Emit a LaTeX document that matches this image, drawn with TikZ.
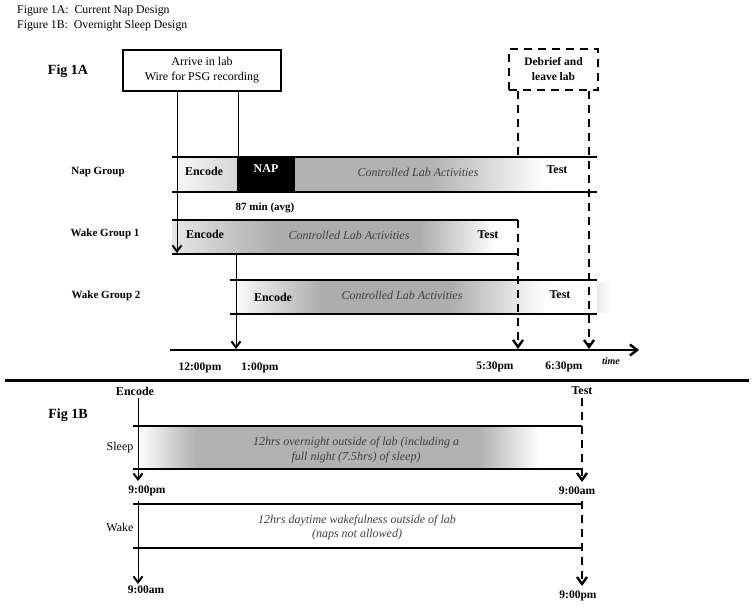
\documentclass[tikz,border=0pt]{standalone}
\usepackage{fontspec}
\setmainfont{Liberation Serif}
\usetikzlibrary{arrows.meta}
\begin{document}
\begin{tikzpicture}[x=1pt,y=-1pt,
  every node/.style={inner sep=0pt},
  ttl/.style={font=\fontsize{11.8}{13}\selectfont, anchor=west},
  figlbl/.style={font=\fontsize{14}{16}\selectfont\bfseries},
  grplbl/.style={font=\fontsize{11}{12}\selectfont\bfseries},
  cell/.style={font=\fontsize{12}{13}\selectfont\bfseries},
  act/.style={font=\fontsize{12}{13}\selectfont\itshape, text=black!75},
  tlbl/.style={font=\fontsize{11.5}{13}\selectfont\bfseries},
  plain/.style={font=\fontsize{12}{13}\selectfont},
  rowline/.style={line width=1.4pt},
  thinline/.style={line width=1pt},
  tip/.style={-{Straight Barb[length=6pt,width=9pt,line width=2pt]}},
  dtip/.style={-{Straight Barb[length=7pt,width=10pt,line width=2.4pt]}},
  dashline/.style={line width=2.4pt, dash pattern=on 8pt off 6pt},
]
\useasboundingbox (0,0) rectangle (754,606);

% ---------- titles ----------
\node[ttl] (t1) at (17,11) {Figure 1A:\ \ Current Nap Design};
\node[ttl] (t2) at (17,25.5) {Figure 1B:\ \ Overnight Sleep Design};
\node[figlbl] (fig1a) at (68,71) {Fig 1A};
\node[figlbl] (fig1b) at (68,415) {Fig 1B};

% ---------- shadings Fig 1A ----------
% Nap row
\shade[left color=black!3, right color=black!16] (177,157) rectangle (237,192);
\fill[black] (237,157) rectangle (295,192);
\fill[black!30] (295,157) rectangle (430,192);
\shade[left color=black!30, right color=white] (430,157) rectangle (545,192);
% Wake group 1
\shade[left color=black!10, right color=black!32] (172,220) rectangle (275,254);
\fill[black!32] (275,220) rectangle (420,254);
\shade[left color=black!32, right color=white] (420,220) rectangle (495,254);
% Wake group 2
\shade[left color=white, right color=black!32] (230,280) rectangle (320,314);
\fill[black!32] (320,280) rectangle (450,314);
\shade[left color=black!32, right color=white] (450,280) rectangle (545,314);
\shade[left color=black!8, right color=white] (597,282) rectangle (612,312);
% Sleep row
\shade[left color=white, right color=black!30] (138,426) rectangle (195,469);
\fill[black!30] (195,426) rectangle (480,469);
\shade[left color=black!30, right color=white] (480,426) rectangle (540,469);

% ---------- row lines ----------
\draw[rowline] (172,157) -- (597,157);
\draw[rowline] (172,192) -- (597,192);
\draw[rowline] (172,220) -- (518,220);
\draw[rowline] (172,254) -- (518,254);
\draw[rowline] (230,280) -- (597,280);
\draw[rowline] (230,314) -- (597,314);
\draw[rowline] (133,426) -- (582,426);
\draw[rowline] (133,469) -- (582,469);
\draw[rowline] (133,504) -- (582,504);
\draw[rowline] (133,548) -- (582,548);

% ---------- boxes ----------
\node[draw, line width=1.2pt, fill=white, minimum width=158pt, minimum height=41pt,
      align=center, font=\fontsize{12}{15}\selectfont] (arrive) at (202,70.5)
      {Arrive in lab\\Wire for PSG recording};
\node[draw, dashline, minimum width=89pt, minimum height=41pt,
      align=center, font=\fontsize{11.5}{15}\selectfont\bfseries] (debrief) at (553.5,69.5)
      {Debrief and\\leave lab};

% ---------- connectors ----------
\coordinate (napstart) at (238,157);
\coordinate (w1end) at (177,253);
\coordinate (w2s) at (236,255);
\coordinate (w2e) at (236,349);
\draw[thinline] (arrive.south -| napstart) -- (napstart);
\draw[thinline, tip] (arrive.south -| w1end) -- (w1end);
\draw[thinline, tip] (w2s) -- (w2e);

\coordinate (d1a) at (518,157);
\coordinate (d1b) at (518,220);
\coordinate (d1c) at (518,349);
\coordinate (d2) at (589,349);
\draw[dashline] (debrief.south -| d1a) -- (d1a);
\draw[dashline, dtip] (d1b) -- (d1c);
\draw[dashline, dtip] (debrief.south -| d2) -- (d2);

% timeline
\coordinate (tl0) at (170,350);
\coordinate (tl1) at (639,350);
\draw[line width=2.5pt, -{Straight Barb[length=7pt,width=11pt,line width=2.5pt]}] (tl0) -- (tl1);

% separator
\coordinate (sep0) at (5,380);
\coordinate (sep1) at (749,380);
\draw[line width=3pt] (sep0) -- (sep1);

% ---------- row labels & cells Fig 1A ----------
\node[grplbl] (lnap) at (98,172) {Nap Group};
\node[grplbl] (lw1) at (105,234) {Wake Group 1};
\node[grplbl] (lw2) at (106,296) {Wake Group 2};

\node[cell] (nenc) at (204,171) {Encode};
\node[cell, text=white] (nnap) at (266,169) {NAP};
\node[act] (nact) at (418,172) {Controlled Lab Activities};
\node[cell] (ntest) at (557,170) {Test};
\node[grplbl] (avg) at (265,208) {87 min (avg)};

\node[cell] (w1enc) at (205,234) {Encode};
\node[act] (w1act) at (349,235) {Controlled Lab Activities};
\node[cell] (w1test) at (488,235) {Test};

\node[cell] (w2enc) at (273,297) {Encode};
\node[act] (w2act) at (402,295) {Controlled Lab Activities};
\node[cell] (w2test) at (560,295) {Test};

% time labels
\node[tlbl] (h12) at (200,368) {12:00pm};
\node[tlbl] (h1) at (260,368) {1:00pm};
\node[tlbl] (h530) at (495,367) {5:30pm};
\node[tlbl] (h630) at (564,367) {6:30pm};
\node[font=\fontsize{10}{11}\selectfont\bfseries\itshape] (time) at (611,361) {time};

% ---------- Fig 1B ----------
\node[cell] (benc) at (135,391) {Encode};
\node[cell] (btest) at (582,391) {Test};
\node[plain] (lsleep) at (120,448) {Sleep};
\node[plain] (lwake) at (120,527) {Wake};
\node[tlbl] (b9pm) at (147,491) {9:00pm};
\node[tlbl] (b9am) at (146,590) {9:00am};
\node[tlbl] (b9am2) at (577,491) {9:00am};
\node[tlbl] (b9pm2) at (578,596) {9:00pm};
\node[act, align=center, font=\fontsize{12}{14.5}\selectfont\itshape] (sleeptxt) at (356,450)
   {12hrs overnight outside of lab (including a\\full night (7.5hrs) of sleep)};
\node[act, align=center, font=\fontsize{12}{14.5}\selectfont\itshape] (waketxt) at (357,527.5)
   {12hrs daytime wakefulness outside of lab\\(naps not allowed)};

\coordinate (ba1) at (138,481);
\coordinate (ba2s) at (138,501);
\coordinate (ba2) at (138,584);
\draw[thinline, tip] (benc.south -| ba1) ++(0,3) -- (ba1);
\draw[thinline, tip] (ba2s) -- (ba2);

\coordinate (bd1) at (582,482);
\coordinate (bd2s) at (582,501);
\coordinate (bd2) at (582,586);
\draw[dashline, dtip] (btest.south -| bd1) ++(0,3) -- (bd1);
\draw[dashline, dtip] (bd2s) -- (bd2);
\end{tikzpicture}
\end{document}
